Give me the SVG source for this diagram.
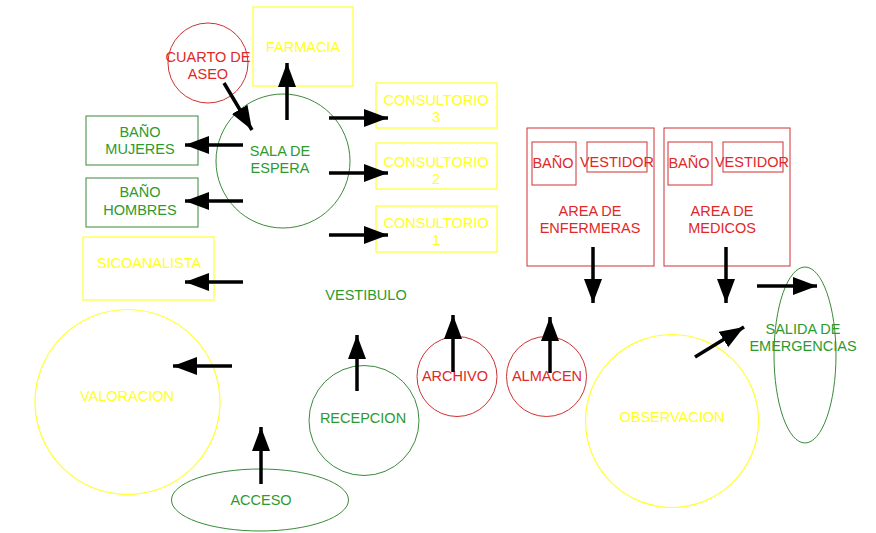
<svg xmlns="http://www.w3.org/2000/svg" width="876" height="533" viewBox="0 0 876 533">
<style>
text{font-family:"Liberation Sans",Arial,sans-serif;font-size:14.5px;text-anchor:middle;dominant-baseline:central}
.g{fill:#2e9a2e}.y{fill:#ffff22}.r{fill:#e02828}
.sg{fill:none;stroke:#3a8a3a;stroke-width:1}
.sy{fill:none;stroke:#ffff33;stroke-width:1.2}
.sr{fill:none;stroke:#d03030;stroke-width:1}
.a{stroke:#000;stroke-width:3.5;fill:none;marker-end:url(#ah)}
</style>
<defs>
<marker id="ah" markerUnits="userSpaceOnUse" markerWidth="26" markerHeight="20" refX="24" refY="9" orient="auto">
<path d="M0,0 L24,9 L0,18 Z" fill="#000"/>
</marker>
</defs>
<rect width="876" height="533" fill="#fff"/>
<g id="cuarto-aseo"><circle class="sr" cx="208" cy="63" r="40"/><text class="r" x="208" y="57">CUARTO DE</text><text class="r" x="208" y="74">ASEO</text></g>
<g id="farmacia"><rect class="sy" x="253" y="7" width="100" height="79"/><text class="y" x="303" y="47">FARMACIA</text></g>
<g id="sala-espera"><circle class="sg" cx="283" cy="161" r="67"/><text class="g" x="280" y="151">SALA DE</text><text class="g" x="280" y="168">ESPERA</text></g>
<g id="consultorio3"><rect class="sy" x="376" y="83" width="121" height="45"/><text class="y" x="436" y="100">CONSULTORIO</text><text class="y" x="436" y="117">3</text></g>
<g id="consultorio2"><rect class="sy" x="376" y="143" width="121" height="46"/><text class="y" x="436" y="162">CONSULTORIO</text><text class="y" x="436" y="179">2</text></g>
<g id="consultorio1"><rect class="sy" x="376" y="206" width="121" height="46"/><text class="y" x="436" y="223">CONSULTORIO</text><text class="y" x="436" y="240">1</text></g>
<g id="bano-mujeres"><rect class="sg" x="86" y="116" width="112" height="49"/><text class="g" x="140" y="132">BAÑO</text><text class="g" x="140" y="149">MUJERES</text></g>
<g id="bano-hombres"><rect class="sg" x="86" y="178" width="112" height="49"/><text class="g" x="140" y="192">BAÑO</text><text class="g" x="140" y="210">HOMBRES</text></g>
<g id="sicoanalista"><rect class="sy" x="83" y="237" width="131" height="63"/><text class="y" x="149" y="263">SICOANALISTA</text></g>
<g id="vestibulo"><text class="g" x="366" y="295">VESTIBULO</text></g>
<g id="valoracion"><circle class="sy" cx="127.5" cy="402" r="92.5"/><text class="y" x="127" y="396">VALORACION</text></g>
<g id="acceso"><ellipse class="sg" cx="260" cy="500" rx="88.5" ry="31"/><text class="g" x="261" y="500">ACCESO</text></g>
<g id="recepcion"><circle class="sg" cx="364" cy="420.5" r="55"/><text class="g" x="363" y="418">RECEPCION</text></g>
<g id="archivo"><circle class="sr" cx="457" cy="376.5" r="40"/><text class="r" x="455" y="376">ARCHIVO</text></g>
<g id="almacen"><circle class="sr" cx="546.5" cy="376.5" r="40"/><text class="r" x="547" y="376">ALMACEN</text></g>
<g id="observacion"><circle class="sy" cx="672" cy="421" r="86.5"/><text class="y" x="672" y="417">OBSERVACION</text></g>
<g id="salida-emergencias"><ellipse class="sg" cx="805" cy="355" rx="31" ry="88"/><text class="g" x="803" y="329">SALIDA DE</text><text class="g" x="803" y="346">EMERGENCIAS</text></g>
<g id="area-enfermeras"><rect class="sr" x="527" y="128" width="127" height="138"/>
<rect class="sr" x="532" y="142" width="44" height="43"/><text class="r" x="553" y="163">BAÑO</text>
<rect class="sr" x="587" y="142" width="60" height="30"/><text class="r" x="617" y="162">VESTIDOR</text>
<text class="r" x="590" y="211">AREA DE</text><text class="r" x="590" y="228">ENFERMERAS</text></g>
<g id="area-medicos"><rect class="sr" x="664" y="128" width="126" height="138"/>
<rect class="sr" x="668" y="142" width="44" height="43"/><text class="r" x="689" y="163">BAÑO</text>
<rect class="sr" x="723" y="142" width="60" height="30"/><text class="r" x="752" y="162">VESTIDOR</text>
<text class="r" x="722" y="211">AREA DE</text><text class="r" x="722" y="228">MEDICOS</text></g>
<g id="connectors">
<line class="a" x1="287" y1="120" x2="287" y2="63"/>
<line class="a" x1="224" y1="83" x2="252" y2="130"/>
<line class="a" x1="329" y1="118" x2="388" y2="118"/>
<line class="a" x1="329" y1="173" x2="388" y2="173"/>
<line class="a" x1="329" y1="235" x2="388" y2="235"/>
<line class="a" x1="243" y1="145" x2="185" y2="145"/>
<line class="a" x1="243" y1="201" x2="185" y2="201"/>
<line class="a" x1="243" y1="282" x2="185" y2="282"/>
<line class="a" x1="232" y1="366" x2="173" y2="366"/>
<line class="a" x1="261" y1="484" x2="261" y2="427"/>
<line class="a" x1="357" y1="391" x2="357" y2="335"/>
<line class="a" x1="453" y1="372" x2="453" y2="315"/>
<line class="a" x1="550" y1="373" x2="550" y2="317"/>
<line class="a" x1="593" y1="247" x2="593" y2="303"/>
<line class="a" x1="726" y1="247" x2="726" y2="303"/>
<line class="a" x1="757" y1="286" x2="817" y2="286"/>
<line class="a" x1="695" y1="357" x2="744" y2="327"/>
</g>
</svg>
